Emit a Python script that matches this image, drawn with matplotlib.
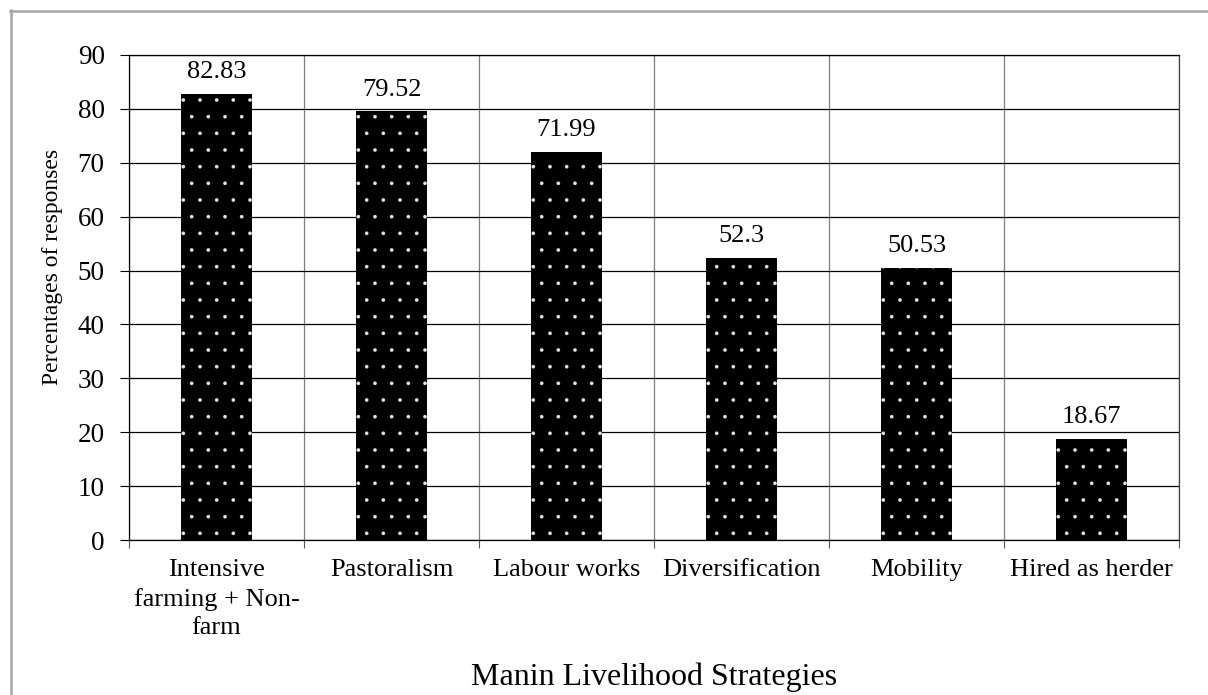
import numpy as np
import matplotlib
matplotlib.use("Agg")
import matplotlib.pyplot as plt
from matplotlib.lines import Line2D

# ---- data ----
strategies = ["Intensive\nfarming + Non-\nfarm", "Pastoralism", "Labour works",
              "Diversification", "Mobility", "Hired as herder"]
percentages = [82.83, 79.52, 71.99, 52.3, 50.53, 18.67]
value_labels = ["82.83", "79.52", "71.99", "52.3", "50.53", "18.67"]
y_ticks = list(range(0, 91, 10))

plt.rcParams["font.family"] = ["Liberation Serif", "DejaVu Serif"]
plt.rcParams["hatch.linewidth"] = 0.2

fig = plt.figure(figsize=(12.08, 6.95), dpi=100)
ax = fig.add_axes([129 / 1208, 1 - 540 / 695, 1050 / 1208, 485 / 695])

x = np.arange(len(strategies))
ax.bar(x, percentages, width=0.41, color="black", edgecolor="#e6e6e6",
       linewidth=0, hatch=".", zorder=3)

for xi, v, lab in zip(x, percentages, value_labels):
    ax.annotate(lab, (xi, v), xytext=(0, 11.5), textcoords="offset points",
                ha="center", va="baseline", fontsize=19)

ax.set_xlim(-0.5, len(strategies) - 0.5)
ax.set_ylim(0, 90)
ax.set_yticks(y_ticks)
ax.set_xticks(x)
ax.set_xticklabels(strategies, fontsize=19, linespacing=1.38)
ax.set_xticks(np.arange(-0.5, len(strategies)), minor=True)
ax.tick_params(axis="x", which="major", length=0, pad=13.5)
ax.tick_params(axis="x", which="minor", length=5.5, width=0.8, color="#555555")
ax.tick_params(axis="y", length=6.5, width=0.8, labelsize=19.5, pad=11)

ax.grid(axis="y", color="black", linewidth=0.9, zorder=0)
ax.grid(axis="x", which="minor", color="#7f7f7f", linewidth=0.9, zorder=0)
ax.set_axisbelow(True)

for side in ["left", "bottom", "top"]:
    ax.spines[side].set_color("black")
    ax.spines[side].set_linewidth(0.9)
ax.spines["right"].set_color("#404040")
ax.spines["right"].set_linewidth(0.9)

ax.set_ylabel("Percentages of responses", fontsize=17)
ax.yaxis.set_label_coords(-0.063, 0.563)
ax.set_xlabel("Manin Livelihood Strategies", fontsize=23)
ax.xaxis.set_label_coords(0.5, -0.252)

# light grey frame round the chart area (only left/top edges fall inside the image)
fig.add_artist(Line2D([10.5 / 1208, 10.5 / 1208], [1 - 10 / 695, 0],
                      transform=fig.transFigure, color="#a6a6a6", linewidth=1.8))
fig.add_artist(Line2D([10 / 1208, 1], [1 - 10.5 / 695, 1 - 10.5 / 695],
                      transform=fig.transFigure, color="#a6a6a6", linewidth=1.8))

fig.savefig("out.png", dpi=100)
